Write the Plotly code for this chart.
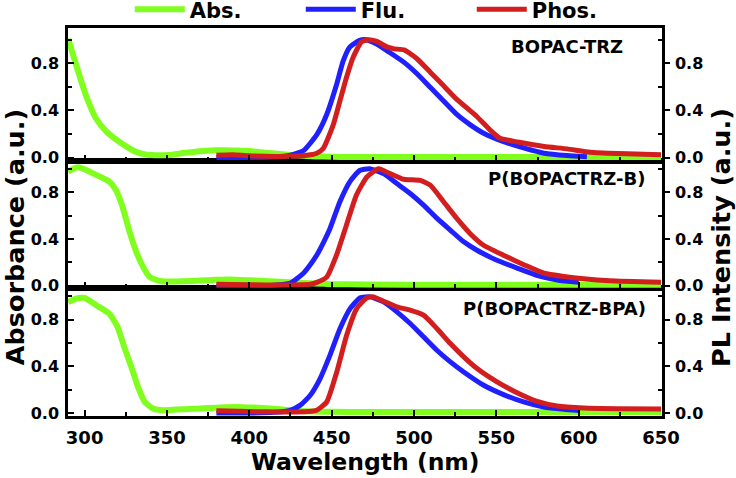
import plotly.graph_objects as go

# ---------------- data ----------------
panel_names = ["BOPAC-TRZ", "P(BOPACTRZ-B)", "P(BOPACTRZ-BPA)"]

# Panel 1: BOPAC-TRZ
abs1_x = [290, 293, 297, 301, 307, 313, 319, 325, 331, 337, 343, 348, 353, 358, 365, 372, 380, 386, 392,
          400, 410, 420, 430, 440, 450, 460, 480, 520, 560, 600, 650]
abs1_y = [1.01, 0.87, 0.69, 0.52, 0.33, 0.225, 0.155, 0.097, 0.05, 0.026, 0.02, 0.02, 0.025, 0.035, 0.045,
          0.055, 0.062, 0.063, 0.06, 0.055, 0.042, 0.028, 0.017, 0.01, 0.007, 0.005, 0.005, 0.005, 0.005, 0.005, 0.005]
flu1_x = [380, 400, 415, 425, 433, 441, 447, 453, 457, 461, 467, 471, 477, 485, 494, 502, 510, 518, 526,
          534, 542, 554, 567, 579, 593, 605]
flu1_y = [0.0, 0.0, 0.005, 0.02, 0.06, 0.195, 0.366, 0.62, 0.82, 0.937, 0.995, 1.0, 0.966, 0.894, 0.808,
          0.709, 0.594, 0.48, 0.366, 0.28, 0.209, 0.137, 0.08, 0.037, 0.017, 0.008]
phos1_x = [380, 390, 400, 420, 435, 441, 445, 451, 455, 459, 463, 468, 472, 477, 484, 488, 494, 502, 510,
           518, 526, 538, 546, 552, 563, 579, 593, 607, 624, 650]
phos1_y = [0.02, 0.025, 0.015, 0.01, 0.02, 0.037, 0.08, 0.28, 0.48, 0.68, 0.85, 0.98, 1.0, 0.988, 0.937,
           0.923, 0.914, 0.837, 0.723, 0.609, 0.494, 0.351, 0.237, 0.166, 0.132, 0.094, 0.074, 0.046, 0.035, 0.025]

# Panel 2: P(BOPACTRZ-B)
abs2_x = [290, 293, 296, 301, 307, 315, 319, 323, 327, 331, 335.5, 339.5, 345.6, 352, 360, 370, 380, 388,
          400, 412, 425, 440, 450, 470, 520, 600, 650]
abs2_y = [0.975, 1.0, 1.013, 0.99, 0.947, 0.89, 0.818, 0.676, 0.476, 0.304, 0.162, 0.076, 0.042, 0.037,
          0.04, 0.045, 0.052, 0.055, 0.048, 0.04, 0.03, 0.02, 0.015, 0.012, 0.01, 0.01, 0.01]
flu2_x = [380, 400, 415, 425, 433, 437, 441, 445, 449, 455, 461, 467, 473, 481.5, 489.6, 497.7, 505.8, 514, 522,
          530, 538, 550, 563, 575, 587, 600]
flu2_y = [0.0, 0.0, 0.005, 0.025, 0.11, 0.18, 0.264, 0.37, 0.49, 0.718, 0.888, 0.985, 1.0, 0.958, 0.874, 0.789,
          0.69, 0.576, 0.477, 0.378, 0.306, 0.221, 0.15, 0.088, 0.051, 0.03]
phos2_x = [380, 400, 420, 437, 441, 447, 453, 459, 465, 471.4, 478.5, 485.5, 493.6, 503.8, 509.9, 518, 526,
           534, 542, 554, 567, 579, 591, 603, 619, 650]
phos2_y = [0.015, 0.01, 0.008, 0.015, 0.03, 0.075, 0.264, 0.52, 0.774, 0.93, 1.0, 0.958, 0.91, 0.9, 0.86,
           0.718, 0.576, 0.448, 0.349, 0.264, 0.179, 0.108, 0.08, 0.06, 0.043, 0.03]

# Panel 3: P(BOPACTRZ-BPA)
abs3_x = [290, 295, 300, 307, 315, 320, 324, 328.4, 332.4, 336.5, 341.5, 347.6, 355.8, 365, 375, 385, 395,
          405, 420, 435, 450, 470, 520, 600, 650]
abs3_y = [0.951, 0.98, 0.985, 0.923, 0.851, 0.737, 0.566, 0.394, 0.223, 0.095, 0.038, 0.023, 0.029, 0.035,
          0.042, 0.048, 0.05, 0.045, 0.03, 0.015, 0.01, 0.008, 0.008, 0.008, 0.008]
flu3_x = [380, 400, 415, 424.7, 430.8, 436.9, 443, 449, 455.1, 461.2, 467.3, 473.4, 481.5, 489.6, 497.7,
          505.8, 513.9, 522.1, 530.2, 542.3, 554.4, 566.6, 578.8, 591, 600]
flu3_y = [0.0, 0.0, 0.005, 0.023, 0.065, 0.15, 0.295, 0.495, 0.723, 0.894, 0.986, 0.994, 0.951, 0.866,
          0.766, 0.652, 0.537, 0.437, 0.351, 0.237, 0.157, 0.094, 0.051, 0.031, 0.02]
phos3_x = [380, 400, 420, 436, 440.9, 447, 453.1, 459.1, 465.2, 471.4, 475.4, 481.5, 489.6, 497.7, 505.8,
           513.9, 522.1, 530.2, 538.3, 550.4, 562.6, 574.8, 586.9, 603.1, 623.5, 650]
phos3_y = [0.02, 0.012, 0.008, 0.012, 0.023, 0.094, 0.351, 0.666, 0.894, 0.986, 0.994, 0.957, 0.909, 0.88,
           0.837, 0.723, 0.594, 0.48, 0.38, 0.266, 0.174, 0.1, 0.06, 0.043, 0.037, 0.035]

x_ticks = [300, 350, 400, 450, 500, 550, 600, 650]
y_ticks = [0.0, 0.4, 0.8]
y_tick_text = ["0.0", "0.4", "0.8"]

# ---------------- styling ----------------
FONT = "DejaVu Sans"
GREEN = "#80ff1e"
BLUE = "#2020ff"
RED = "#d21e1e"
LW = 5

panels = [
    (panel_names[0], (abs1_x, abs1_y), (flu1_x, flu1_y), (phos1_x, phos1_y), "x3", "y5", "y6", [0.6575, 1.0], [-0.028, 1.10]),
    (panel_names[1], (abs2_x, abs2_y), (flu2_x, flu2_y), (phos2_x, phos2_y), "x2", "y3", "y4", [0.3296, 0.6575], [-0.019, 1.067]),
    (panel_names[2], (abs3_x, abs3_y), (flu3_x, flu3_y), (phos3_x, phos3_y), "x", "y", "y2", [0.0, 0.3296], [-0.026, 1.069]),
]

fig = go.Figure()
for i, (name, ab, fl, ph, xa, yl, yr, dom, yrng) in enumerate(panels):
    first = (i == 0)
    fig.add_trace(go.Scatter(x=fl[0], y=fl[1], mode="lines", name="Flu.", legendrank=2,
                             line=dict(color=BLUE, width=LW, shape="spline", smoothing=0.5),
                             xaxis=xa, yaxis=yr, showlegend=first, hoverinfo="skip"))
    fig.add_trace(go.Scatter(x=ph[0], y=ph[1], mode="lines", name="Phos.", legendrank=3,
                             line=dict(color=RED, width=LW, shape="spline", smoothing=0.5),
                             xaxis=xa, yaxis=yr, showlegend=first, hoverinfo="skip"))
    fig.add_trace(go.Scatter(x=ab[0], y=ab[1], mode="lines", name="Abs.", legendrank=1,
                             line=dict(color=GREEN, width=LW + 1, shape="spline", smoothing=0.5),
                             xaxis=xa, yaxis=yl, showlegend=first, hoverinfo="skip"))

tickfont_x = dict(family=FONT, size=18, color="black", weight="bold")
tickfont_y = dict(family=FONT, size=16, color="black", weight="bold")

def xaxis_cfg(anchor, labels):
    return dict(domain=[0, 1], anchor=anchor, range=[289.9, 650.6], tickvals=x_ticks,
                showticklabels=labels, ticks="inside", ticklen=6, tickwidth=2, tickcolor="black",
                minor=dict(dtick=25, tick0=275, ticks="inside", ticklen=4, tickwidth=2, tickcolor="black"),
                showline=True, linewidth=2.5, linecolor="black", mirror=True, showgrid=False,
                zeroline=False, tickfont=tickfont_x, ticklabelstandoff=4)

def yleft_cfg(anchor, dom, rng):
    return dict(domain=dom, anchor=anchor, range=rng, tickvals=y_ticks, ticktext=y_tick_text,
                ticks="inside", ticklen=6, tickwidth=2, tickcolor="black",
                minor=dict(tickvals=[0.2, 0.6, 1.0], ticks="inside", ticklen=4, tickwidth=2, tickcolor="black"),
                showline=True, linewidth=2.5, linecolor="black", showgrid=False, zeroline=False,
                tickfont=tickfont_y, ticklabelstandoff=3)

def yright_cfg(anchor, over, rng):
    return dict(anchor=anchor, overlaying=over, side="right", range=rng, tickvals=y_ticks, ticktext=y_tick_text,
                ticks="outside", ticklen=5, tickwidth=2, tickcolor="black",
                minor=dict(tickvals=[0.2, 0.6, 1.0], ticks="inside", ticklen=4, tickwidth=2, tickcolor="black"),
                showline=True, linewidth=2.5, linecolor="black", showgrid=False, zeroline=False,
                tickfont=tickfont_y, ticklabelstandoff=2)

fig.update_layout(
    xaxis=xaxis_cfg("y", True),
    xaxis2=xaxis_cfg("y3", False),
    xaxis3=xaxis_cfg("y5", False),
    yaxis=yleft_cfg("x", panels[2][7], panels[2][8]),
    yaxis2=yright_cfg("x", "y", panels[2][8]),
    yaxis3=yleft_cfg("x2", panels[1][7], panels[1][8]),
    yaxis4=yright_cfg("x2", "y3", panels[1][8]),
    yaxis5=yleft_cfg("x3", panels[0][7], panels[0][8]),
    yaxis6=yright_cfg("x3", "y5", panels[0][8]),
)

label_pos = [(0.9377, 0.862, "x3", "y5"), (0.974, 0.863, "x2", "y3"), (0.977, 0.841, "x", "y")]
annotations = []
for (name, *_), (lx, ly, xa, ya) in zip(panels, label_pos):
    annotations.append(dict(text=name, x=lx, y=ly, xref=f"{xa} domain", yref=f"{ya} domain",
                            xanchor="right", yanchor="middle", showarrow=False,
                            font=dict(family=FONT, size=18, color="black", weight="bold")))

title_font = dict(family=FONT, size=25.5, color="black", weight="bold")
annotations.append(dict(text="Absorbance (a.u.)", x=-0.0892, y=0.461, xref="paper", yref="paper",
                        textangle=-90, showarrow=False, xanchor="center", yanchor="middle", font=title_font))
annotations.append(dict(text="PL Intensity (a.u.)", x=1.099, y=0.461, xref="paper", yref="paper",
                        textangle=-90, showarrow=False, xanchor="center", yanchor="middle", font=title_font))
annotations.append(dict(text="Wavelength (nm)", x=0.5, y=-0.1186, xref="paper", yref="paper",
                        showarrow=False, xanchor="center", yanchor="middle",
                        font=dict(family=FONT, size=23.5, color="black", weight="bold")))

fig.update_layout(
    width=736, height=478,
    margin=dict(l=68, r=74, t=28, b=62, autoexpand=False),
    paper_bgcolor="white", plot_bgcolor="white",
    annotations=annotations,
    showlegend=True,
    legend=dict(orientation="h", x=0.104, y=1.1, xanchor="left", yanchor="top",
                font=dict(family=FONT, size=21, color="black", weight="bold"),
                itemwidth=50, entrywidth=106, bgcolor="rgba(0,0,0,0)", borderwidth=0, tracegroupgap=0),
)

fig.write_html("out.html", config={"displayModeBar": False},
               post_script="document.body.style.margin='0px';document.body.style.overflow='hidden';")
